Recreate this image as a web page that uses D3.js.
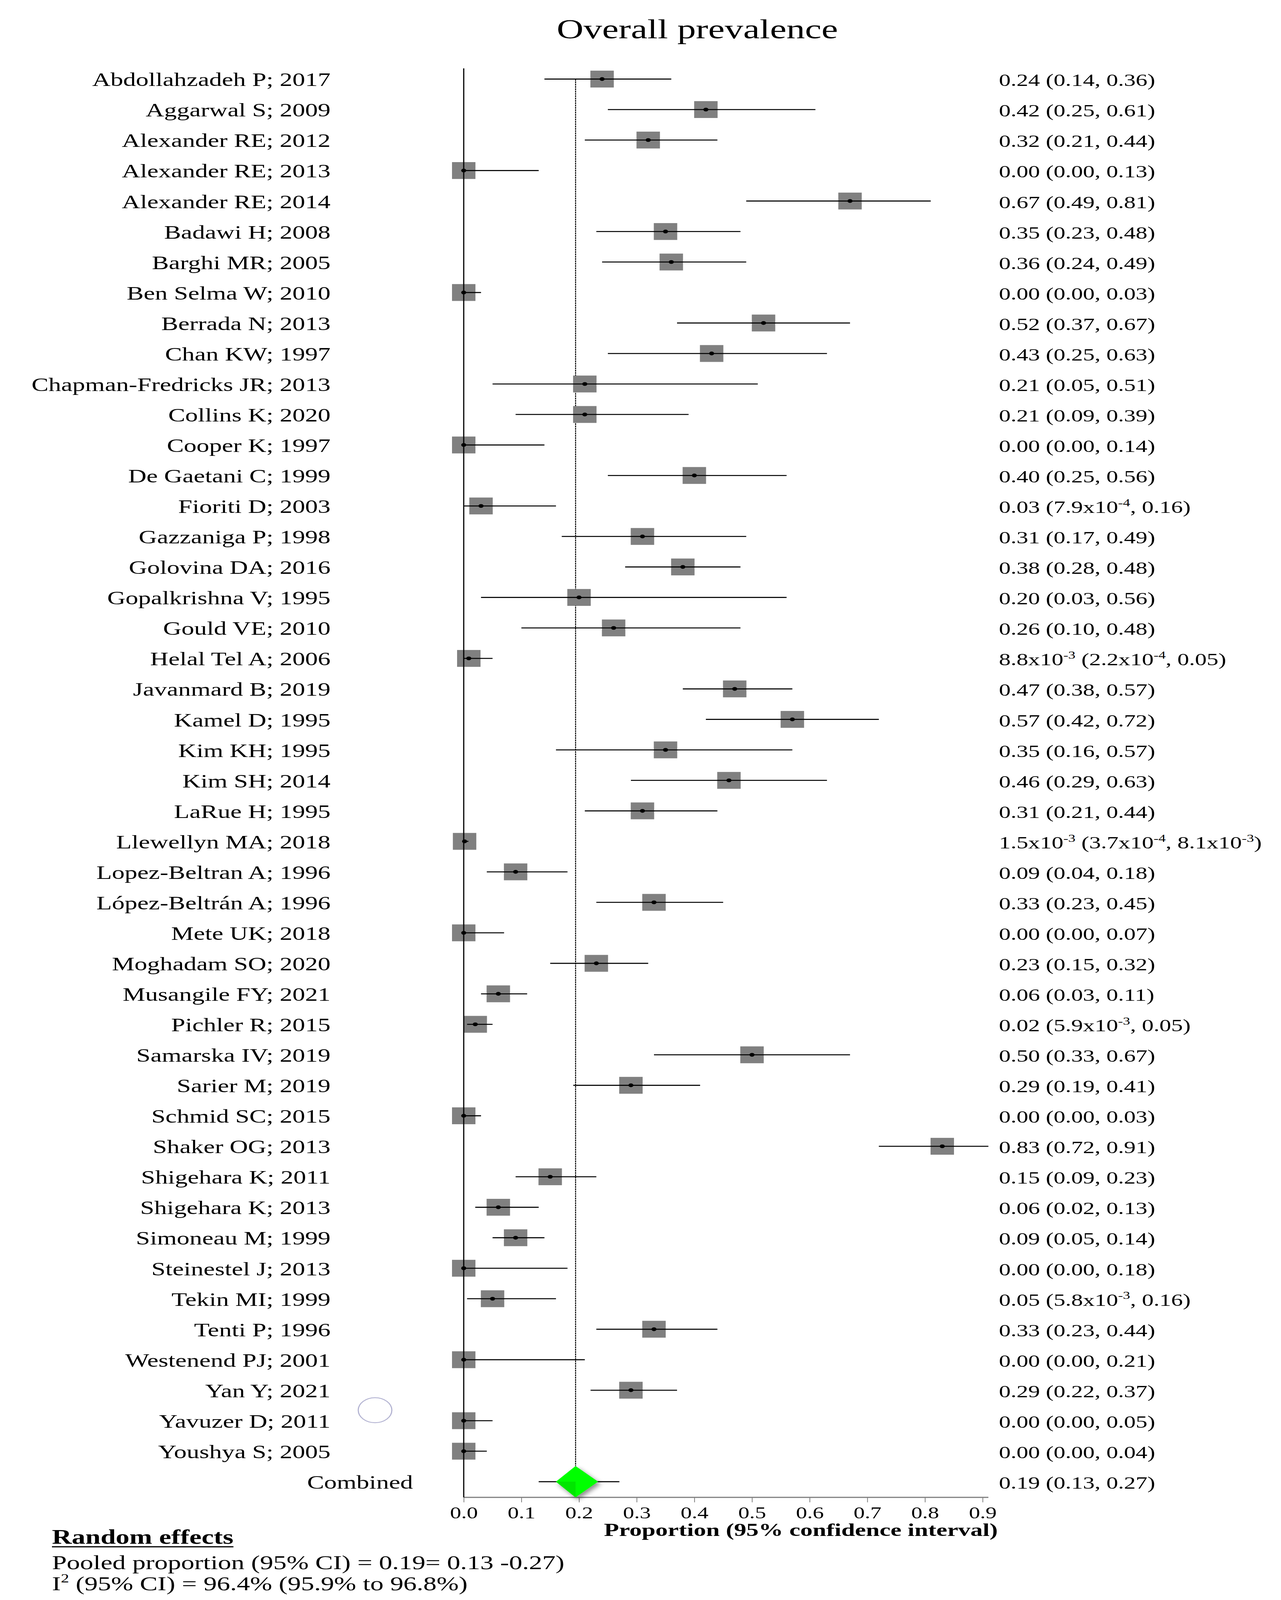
<!DOCTYPE html>
<html>
<head>
<meta charset="utf-8">
<script src="https://cdnjs.cloudflare.com/ajax/libs/d3/7.8.5/d3.min.js"></script>
<style>
  html, body { margin: 0; padding: 0; background: #fff; overflow: hidden; }
  svg { display: block; }
  text { font-family: "Liberation Serif", "Times New Roman", serif; fill: #000; }
</style>
</head>
<body>
<div class="container"></div>
<script>
// study rows, top to bottom
var studies = [
  "Abdollahzadeh P; 2017", "Aggarwal S; 2009", "Alexander RE; 2012", "Alexander RE; 2013",
  "Alexander RE; 2014", "Badawi H; 2008", "Barghi MR; 2005", "Ben Selma W; 2010",
  "Berrada N; 2013", "Chan KW; 1997", "Chapman-Fredricks JR; 2013", "Collins K; 2020",
  "Cooper K; 1997", "De Gaetani C; 1999", "Fioriti D; 2003", "Gazzaniga P; 1998",
  "Golovina DA; 2016", "Gopalkrishna V; 1995", "Gould VE; 2010", "Helal Tel A; 2006",
  "Javanmard B; 2019", "Kamel D; 1995", "Kim KH; 1995", "Kim SH; 2014",
  "LaRue H; 1995", "Llewellyn MA; 2018", "Lopez-Beltran A; 1996", "López-Beltrán A; 1996",
  "Mete UK; 2018", "Moghadam SO; 2020", "Musangile FY; 2021", "Pichler R; 2015",
  "Samarska IV; 2019", "Sarier M; 2019", "Schmid SC; 2015", "Shaker OG; 2013",
  "Shigehara K; 2011", "Shigehara K; 2013", "Simoneau M; 1999", "Steinestel J; 2013",
  "Tekin MI; 1999", "Tenti P; 1996", "Westenend PJ; 2001", "Yan Y; 2021",
  "Yavuzer D; 2011", "Youshya S; 2005"
];
var est = [
  0.24, 0.42, 0.32, 0.00, 0.67, 0.35, 0.36, 0.00, 0.52, 0.43, 0.21, 0.21,
  0.00, 0.40, 0.03, 0.31, 0.38, 0.20, 0.26, 0.0088, 0.47, 0.57, 0.35, 0.46,
  0.31, 0.0015, 0.09, 0.33, 0.00, 0.23, 0.06, 0.02, 0.50, 0.29, 0.00, 0.83,
  0.15, 0.06, 0.09, 0.00, 0.05, 0.33, 0.00, 0.29, 0.00, 0.00
];
var lower = [
  0.14, 0.25, 0.21, 0.00, 0.49, 0.23, 0.24, 0.00, 0.37, 0.25, 0.05, 0.09,
  0.00, 0.25, 0.00079, 0.17, 0.28, 0.03, 0.10, 0.00022, 0.38, 0.42, 0.16, 0.29,
  0.21, 0.00037, 0.04, 0.23, 0.00, 0.15, 0.03, 0.0059, 0.33, 0.19, 0.00, 0.72,
  0.09, 0.02, 0.05, 0.00, 0.0058, 0.23, 0.00, 0.22, 0.00, 0.00
];
var upper = [
  0.36, 0.61, 0.44, 0.13, 0.81, 0.48, 0.49, 0.03, 0.67, 0.63, 0.51, 0.39,
  0.14, 0.56, 0.16, 0.49, 0.48, 0.56, 0.48, 0.05, 0.57, 0.72, 0.57, 0.63,
  0.44, 0.0081, 0.18, 0.45, 0.07, 0.32, 0.11, 0.05, 0.67, 0.41, 0.03, 0.91,
  0.23, 0.13, 0.14, 0.18, 0.16, 0.44, 0.21, 0.37, 0.05, 0.04
];
// right hand column, ^{..} = superscript
var estLabels = [
  "0.24 (0.14, 0.36)", "0.42 (0.25, 0.61)", "0.32 (0.21, 0.44)", "0.00 (0.00, 0.13)",
  "0.67 (0.49, 0.81)", "0.35 (0.23, 0.48)", "0.36 (0.24, 0.49)", "0.00 (0.00, 0.03)",
  "0.52 (0.37, 0.67)", "0.43 (0.25, 0.63)", "0.21 (0.05, 0.51)", "0.21 (0.09, 0.39)",
  "0.00 (0.00, 0.14)", "0.40 (0.25, 0.56)", "0.03 (7.9x10^{-4}, 0.16)", "0.31 (0.17, 0.49)",
  "0.38 (0.28, 0.48)", "0.20 (0.03, 0.56)", "0.26 (0.10, 0.48)", "8.8x10^{-3} (2.2x10^{-4}, 0.05)",
  "0.47 (0.38, 0.57)", "0.57 (0.42, 0.72)", "0.35 (0.16, 0.57)", "0.46 (0.29, 0.63)",
  "0.31 (0.21, 0.44)", "1.5x10^{-3} (3.7x10^{-4}, 8.1x10^{-3})", "0.09 (0.04, 0.18)", "0.33 (0.23, 0.45)",
  "0.00 (0.00, 0.07)", "0.23 (0.15, 0.32)", "0.06 (0.03, 0.11)", "0.02 (5.9x10^{-3}, 0.05)",
  "0.50 (0.33, 0.67)", "0.29 (0.19, 0.41)", "0.00 (0.00, 0.03)", "0.83 (0.72, 0.91)",
  "0.15 (0.09, 0.23)", "0.06 (0.02, 0.13)", "0.09 (0.05, 0.14)", "0.00 (0.00, 0.18)",
  "0.05 (5.8x10^{-3}, 0.16)", "0.33 (0.23, 0.44)", "0.00 (0.00, 0.21)", "0.29 (0.22, 0.37)",
  "0.00 (0.00, 0.05)", "0.00 (0.00, 0.04)"
];
// pooled (random effects)
var pooledName = "Combined";
var pooledEst = 0.194;
var pooledCI = [0.13, 0.27];
var pooledDiamond = [0.16, 0.233];
var pooledLabel = "0.19 (0.13, 0.27)";
var tickVals = [0, 0.1, 0.2, 0.3, 0.4, 0.5, 0.6, 0.7, 0.8, 0.9];
var titleText = "Overall prevalence";
var axisTitle = "Proportion (95% confidence interval)";
var footLines = ["Pooled proportion (95% CI) = 0.19= 0.13 -0.27)", "I^{2} (95% CI) = 96.4% (95.9% to 96.8%)"];

// drawing space is the reference size, stretched to whatever the window is
var W = 3279, H = 5504;
var vw = window.innerWidth || W, vh = window.innerHeight || H;
var svg = d3.select('.container').append('svg')
  .attr('width', vw).attr('height', vh)
  .attr('viewBox', '0 0 ' + W + ' ' + H)
  .attr('preserveAspectRatio', 'none');
svg.append('rect').attr('width', W).attr('height', H).attr('fill', '#fff');

var defs = svg.append('defs');
var f = defs.append('filter').attr('id', 'shadow')
  .attr('x', '-50%').attr('y', '-50%').attr('width', '200%').attr('height', '200%');
f.append('feDropShadow').attr('dx', 6).attr('dy', 8).attr('stdDeviation', 7)
  .attr('flood-color', '#000').attr('flood-opacity', 0.45);

var rows = studies.concat([pooledName]);
var x = d3.scaleLinear().domain([0, 0.91]).range([1187, 2530]);
var y = d3.scalePoint().domain(d3.range(rows.length)).range([272, 5097]);
var axisY = 5151;

// helper: write text with ^{..} superscripts
function richText(sel, str) {
  var parts = str.split(/\^\{([^}]*)\}/);
  var up = false;
  parts.forEach(function(p, i) {
    if (p === '') { return; }
    var sup = i % 2 === 1;
    var t = sel.append('tspan').text(p);
    if (sup) {
      t.attr('font-size', '0.62em').attr('dy', '-0.62em');
      up = true;
    } else if (up) {
      t.attr('dy', '0.385em');
      up = false;
    }
  });
}

// title
svg.append('text').attr('x', 1785).attr('y', 132)
  .attr('text-anchor', 'middle').attr('font-size', 95).text(titleText);

// reference line at pooled estimate
svg.append('line')
  .attr('x1', x(pooledEst)).attr('x2', x(pooledEst))
  .attr('y1', y(0)).attr('y2', y(studies.length) - 54)
  .attr('stroke', '#000').attr('stroke-width', 2.5)
  .attr('stroke-dasharray', '6,2');

// axis
var axis = d3.axisBottom(x).tickValues(tickVals)
  .tickFormat(d3.format('.1f')).tickSize(17).tickPadding(15);
var gAxis = svg.append('g').attr('transform', 'translate(0,' + axisY + ')').call(axis);
gAxis.select('.domain').attr('stroke', '#808080').attr('stroke-width', 4)
  .attr('d', 'M' + x(0) + ',0H' + x(0.91));
gAxis.selectAll('.tick line').attr('stroke', '#808080').attr('stroke-width', 2);
gAxis.selectAll('.tick text')
  .attr('font-family', '"Liberation Serif", serif').attr('font-size', 57).attr('fill', '#000');

svg.append('text').attr('x', 2050).attr('y', 5284)
  .attr('text-anchor', 'middle').attr('font-size', 63).attr('font-weight', 'bold')
  .text(axisTitle);

// study rows
var idx = d3.range(studies.length);
var g = svg.append('g');

g.selectAll('.box').data(idx).enter().append('rect')
  .attr('class', 'box')
  .attr('x', function(i) { return x(est[i]) - 30; })
  .attr('y', function(i) { return y(i) - 29; })
  .attr('width', 60).attr('height', 58)
  .attr('fill', '#808080');

// zero line passes in front of the boxes
g.append('line')
  .attr('x1', x(0)).attr('x2', x(0))
  .attr('y1', 235).attr('y2', axisY)
  .attr('stroke', '#000').attr('stroke-width', 3);

g.selectAll('.ci').data(idx).enter().append('line')
  .attr('class', 'ci')
  .attr('x1', function(i) { return x(lower[i]); })
  .attr('x2', function(i) { return x(upper[i]); })
  .attr('y1', function(i) { return y(i); })
  .attr('y2', function(i) { return y(i); })
  .attr('stroke', '#000').attr('stroke-width', 3.5);

g.selectAll('.dot').data(idx).enter().append('circle')
  .attr('cx', function(i) { return x(est[i]); })
  .attr('cy', function(i) { return y(i); })
  .attr('r', 6.5).attr('fill', '#000');

g.selectAll('.name').data(idx).enter().append('text')
  .attr('x', 846).attr('y', function(i) { return y(i) + 24; })
  .attr('text-anchor', 'end').attr('font-size', 65)
  .text(function(i) { return studies[i]; });

g.selectAll('.val').data(idx).enter().append('text')
  .attr('x', 2557).attr('y', function(i) { return y(i) + 24; })
  .attr('font-size', 60)
  .each(function(i) { richText(d3.select(this), estLabels[i]); });

// combined row
var pc = studies.length;
svg.append('line')
  .attr('x1', x(pooledCI[0])).attr('x2', x(pooledCI[1]))
  .attr('y1', y(pc)).attr('y2', y(pc))
  .attr('stroke', '#000').attr('stroke-width', 3.5);
var dTop = y(pc) - 54, dBot = y(pc) + 54;
svg.append('path')
  .attr('d', 'M' + x(pooledEst) + ',' + dTop + 'L' + x(pooledDiamond[1]) + ',' + y(pc) +
    'L' + x(pooledEst) + ',' + dBot + 'L' + x(pooledDiamond[0]) + ',' + y(pc) + 'Z')
  .attr('fill', '#00ff00').attr('filter', 'url(#shadow)');
svg.append('path')
  .attr('d', 'M' + x(pooledDiamond[0]) + ',' + y(pc) + 'L' + x(pooledEst) + ',' + y(pc) +
    'L' + x(pooledEst) + ',' + dBot + 'Z')
  .attr('fill', '#00e600');
svg.append('text').attr('x', 1057).attr('y', y(pc) + 24)
  .attr('text-anchor', 'end').attr('font-size', 65).text(pooledName);
svg.append('text').attr('x', 2557).attr('y', y(pc) + 24)
  .attr('font-size', 60).text(pooledLabel);

// stray circle in the figure
svg.append('circle').attr('cx', 960).attr('cy', 4851).attr('r', 43)
  .attr('fill', 'none').attr('stroke', '#b4b4d2').attr('stroke-width', 3);

// random effects footer
var re = svg.append('text').attr('x', 133).attr('y', 5310)
  .attr('font-size', 70).attr('font-weight', 'bold').text('Random effects');
var reW = re.node().getComputedTextLength();
svg.append('line').attr('x1', 133).attr('x2', 133 + reW)
  .attr('y1', 5321).attr('y2', 5321)
  .attr('stroke', '#000').attr('stroke-width', 4);
footLines.forEach(function(s, k) {
  var t = svg.append('text').attr('x', 133).attr('y', 5398 + k * 72).attr('font-size', 68);
  richText(t, s);
});
</script>
</body>
</html>
